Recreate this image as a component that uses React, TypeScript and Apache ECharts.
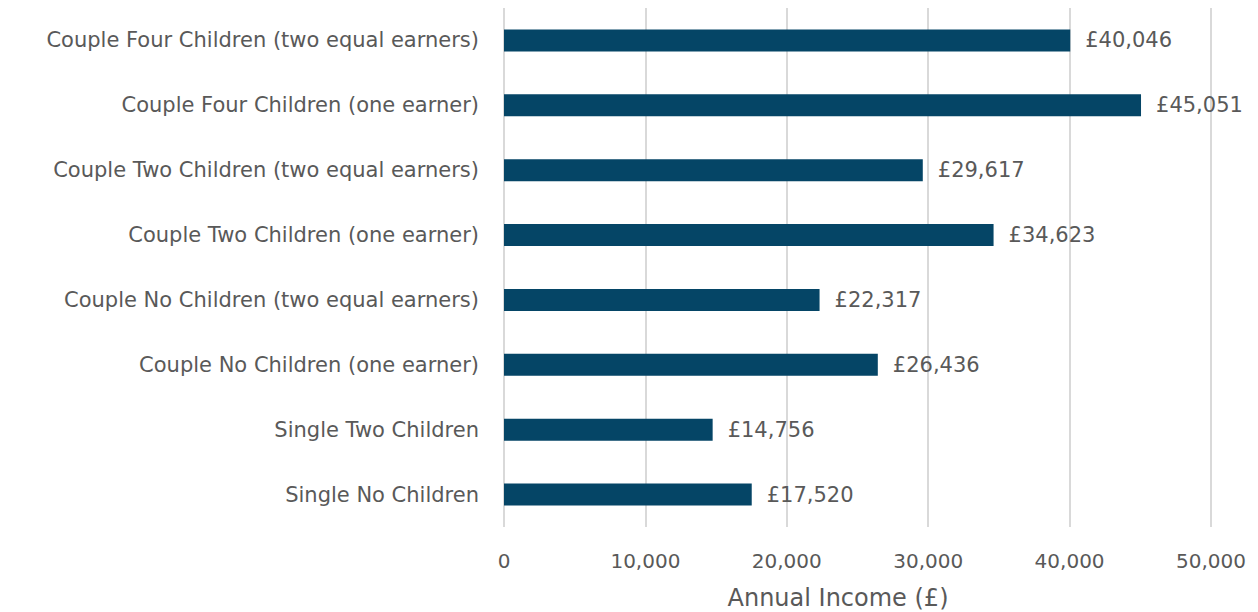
import React, { useEffect, useRef } from "react";
import * as echarts from "echarts";

const categories = [
  "Single No Children",
  "Single Two Children",
  "Couple No Children (one earner)",
  "Couple No Children (two equal earners)",
  "Couple Two Children (one earner)",
  "Couple Two Children (two equal earners)",
  "Couple Four Children (one earner)",
  "Couple Four Children (two equal earners)",
];
const incomes = [17520, 14756, 26436, 22317, 34623, 29617, 45051, 40046];
const axisTitle = "Annual Income (£)";

const FONT = "'DejaVu Sans', sans-serif";
const TEXT = "#595959";

export default function App() {
  const ref = useRef<HTMLDivElement>(null);
  useEffect(() => {
    const chart = echarts.init(ref.current!, undefined, { renderer: "svg" });
    chart.setOption({
      animation: false,
      grid: { left: 504, right: 47, top: 8, bottom: 85, containLabel: false },
      xAxis: {
        type: "value",
        min: 0,
        max: 50000,
        interval: 10000,
        axisLine: { show: false },
        axisTick: { show: false },
        splitLine: { lineStyle: { color: "#d9d9d9", width: 2 } },
        axisLabel: {
          color: TEXT,
          fontFamily: FONT,
          fontSize: 20,
          margin: 24,
          formatter: (v: number) => v.toLocaleString("en-GB"),
        },
      },
      yAxis: {
        type: "category",
        data: categories,
        axisLine: { show: false },
        axisTick: { show: false },
        axisLabel: { color: TEXT, fontFamily: FONT, fontSize: 21, margin: 25 },
      },
      graphic: [
        {
          type: "text",
          x: 838,
          y: 598,
          style: {
            text: axisTitle,
            fill: TEXT,
            font: `24px ${FONT}`,
            textAlign: "center",
            textVerticalAlign: "middle",
          },
        },
      ],
      series: [
        {
          type: "bar",
          data: incomes,
          barWidth: 22,
          itemStyle: { color: "#054566" },
          label: {
            show: true,
            position: "right",
            distance: 15,
            color: TEXT,
            fontFamily: FONT,
            fontSize: 21,
            formatter: (p: any) => "£" + p.value.toLocaleString("en-GB"),
          },
        },
      ],
    });
    return () => chart.dispose();
  }, []);
  return <div ref={ref} style={{ width: 1258, height: 612, position: "absolute", left: 0, top: 0 }} />;
}
